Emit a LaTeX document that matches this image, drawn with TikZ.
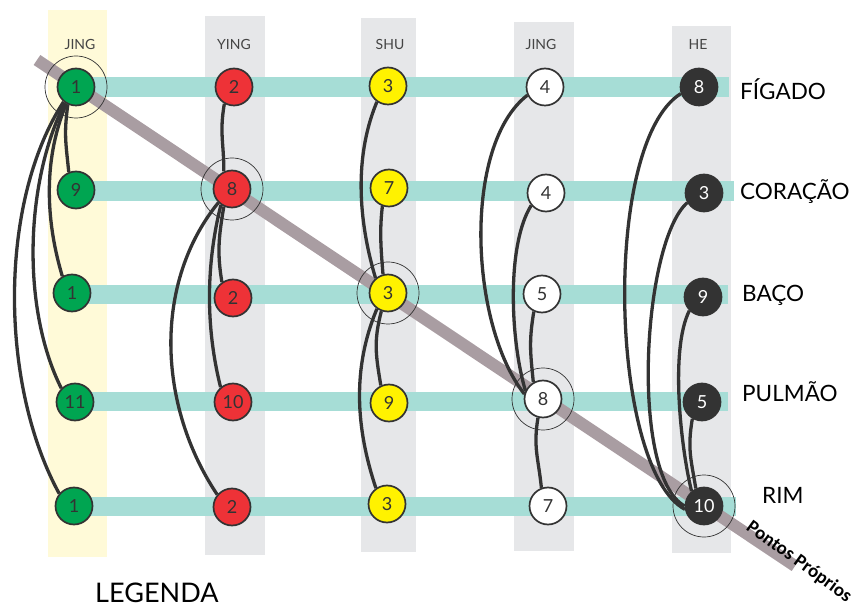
\documentclass[tikz,border=0pt]{standalone}
\usepackage{fontspec}
\setmainfont{Lato}
\newfontfamily\ppfont{Carlito}
\usetikzlibrary{positioning}

\definecolor{barteal}{HTML}{A6DDD6}
\definecolor{bandgray}{HTML}{A99DA2}
\definecolor{stripyellow}{HTML}{FFFAD8}
\definecolor{stripgray}{HTML}{E6E7E9}
\definecolor{ptgreen}{HTML}{00A551}
\definecolor{ptred}{HTML}{EE3237}
\definecolor{ptyellow}{HTML}{FFF200}
\definecolor{ptdark}{HTML}{333333}
\definecolor{linec}{HTML}{333333}
\definecolor{headc}{HTML}{444444}

\pgfdeclarelayer{bg}
\pgfdeclarelayer{links}
\pgfsetlayers{bg,links,main}

\tikzset{
	acup/.style={circle, draw=linec, line width=1.7pt, minimum size=37pt, inner sep=0pt,
		font=\fontsize{18}{18}\selectfont, text=linec},
	acug/.style={acup, fill=ptgreen},
	acur/.style={acup, fill=ptred},
	acuy/.style={acup, fill=ptyellow},
	acuw/.style={acup, fill=white},
	acuk/.style={acup, fill=ptdark, text=white},
	link/.style={draw=linec, line width=3.3pt},
	ring/.style={draw=linec, line width=0.7pt},
	header/.style={font=\fontsize{14}{14}\selectfont, text=headc},
	organ/.style={font=\fontsize{22.5}{22.5}\selectfont, anchor=base west, inner sep=0pt},
}

\begin{document}
\begin{tikzpicture}[x=1pt,y=1pt]
	\useasboundingbox (0,0) rectangle (862,-609);

	\begin{pgfonlayer}{bg}
	% columns
	\fill[stripyellow] (48,-10) rectangle (107,-557);
	\fill[stripgray] (205,-16) rectangle (265,-555);
	\fill[stripgray] (361,-18) rectangle (416,-552);
	\fill[stripgray] (514,-22) rectangle (574,-551);
	\fill[stripgray] (672,-26) rectangle (731,-553);
	% rows
	\fill[barteal] (76,-77) rectangle (729,-97);
	\fill[barteal] (76,-181) rectangle (734,-201);
	\fill[barteal] (76,-285) rectangle (728,-304);
	\fill[barteal] (76,-392) rectangle (728,-411);
	\fill[barteal] (76,-497) rectangle (736,-516);
	% diagonal
	\draw[bandgray, line width=12pt] (37,-60) -- (795,-566);
	\end{pgfonlayer}

	\node[header] (h1) at (80,-44) {JING};
	\node[header] (h2) at (234,-44) {YING};
	\node[header] (h3) at (390,-44) {SHU};
	\node[header] (h4) at (541,-44) {JING};
	\node[header] (h5) at (698,-44) {HE};

	\node[acug] (g1) at (76,-87) {1};
	\node[acug] (g2) at (76,-190) {9};
	\node[acug] (g3) at (72,-293) {1};
	\node[acug] (g4) at (75,-402) {11};
	\node[acug] (g5) at (74,-506) {1};

	\node[acur] (r1) at (234,-87) {2};
	\node[acur] (r2) at (232,-189) {8};
	\node[acur] (r3) at (233,-298) {2};
	\node[acur] (r4) at (233,-402) {10};
	\node[acur] (r5) at (232,-507) {2};

	\node[acuy] (y1) at (388,-86) {3};
	\node[acuy] (y2) at (389,-188) {7};
	\node[acuy] (y3) at (388,-293) {3};
	\node[acuy] (y4) at (389,-403) {9};
	\node[acuy] (y5) at (387,-504) {3};

	\node[acuw] (w1) at (545,-87) {4};
	\node[acuw] (w2) at (546,-193) {4};
	\node[acuw] (w3) at (542,-294) {5};
	\node[acuw] (w4) at (543,-399) {8};
	\node[acuw] (w5) at (548,-506) {7};

	\node[acuk] (k1) at (699,-87) {8};
	\node[acuk] (k2) at (704,-193) {3};
	\node[acuk] (k3) at (703,-297) {9};
	\node[acuk] (k4) at (702,-402) {5};
	\node[acuk] (k5) at (704,-506) {10};

	\begin{pgfonlayer}{links}
	\draw[link] (g1.245) .. controls +(-4,-30) and +(-3,30) .. (g2.112);
	\draw[link] (g1.240) .. controls +(-25,-60) and +(-15,50) .. (g3.120);
	\draw[link] (g1.235) .. controls +(-40,-80) and +(-40,80) .. (g4.135);
	\draw[link] (g1.230) .. controls +(-65,-100) and +(-60,110) .. (g5.140);

	\draw[link] (r1.240) .. controls +(-5,-30) and +(0,30) .. (r2.115);
	\draw[link] (r2.245) .. controls +(-5,-30) and +(-5,30) .. (r3.125);
	\draw[link] (r2.235) .. controls +(-15,-60) and +(-15,60) .. (r4.130);
	\draw[link] (r2.225) .. controls +(-65,-80) and +(-60,90) .. (r5.140);

	\draw[link] (y1.235) .. controls +(-25,-60) and +(-15,50) .. (y3.130);
	\draw[link] (y2.250) .. controls +(-3,-25) and +(-2,25) .. (y3.105);
	\draw[link] (y3.250) .. controls +(-8,-30) and +(-5,30) .. (y4.115);
	\draw[link] (y3.235) .. controls +(-25,-60) and +(-20,60) .. (y5.125);

	\draw[link] (w1.205) .. controls +(-65,-50) and +(-55,70) .. (w4.165);
	\draw[link] (w2.220) .. controls +(-25,-40) and +(-15,50) .. (w4.155);
	\draw[link] (w3.245) .. controls +(-5,-30) and +(-3,30) .. (w4.120);
	\draw[link] (w4.255) .. controls +(-5,-30) and +(-3,30) .. (w5.110);

	\draw[link] (k1.200) .. controls +(-80,-50) and +(-75,40) .. (k5.190);
	\draw[link] (k2.210) .. controls +(-45,-40) and +(-55,30) .. (k5.180);
	\draw[link] (k3.225) .. controls +(-20,-40) and +(-10,40) .. (k5.130);
	\draw[link] (k4.240) .. controls +(-5,-30) and +(-5,30) .. (k5.115);

	% rings on the diagonal
	\draw[ring] (g1) circle (31);
	\draw[ring] (r2) circle (31);
	\draw[ring] (y3) circle (31);
	\draw[ring] (w4) circle (31);
	\draw[ring] (k5) circle (31);
	\end{pgfonlayer}

	\node[organ] (figado) at (740,-100) {FÍGADO};
	\node[organ] (coracao) at (740,-200) {CORAÇÃO};
	\node[organ] (baco) at (742,-302) {BAÇO};
	\node[organ] (pulmao) at (742,-402) {PULMÃO};
	\node[organ] (rim) at (762,-503) {RIM};

	\node[font=\fontsize{27}{27}\selectfont, anchor=base west, inner sep=0pt] (legenda) at (95,-602) {LEGENDA};
	\node[rotate=-36, inner sep=1pt, font=\ppfont\bfseries\fontsize{19}{19}\selectfont] (proprios) at (799,-562) {Pontos Próprios};
\end{tikzpicture}
\end{document}
